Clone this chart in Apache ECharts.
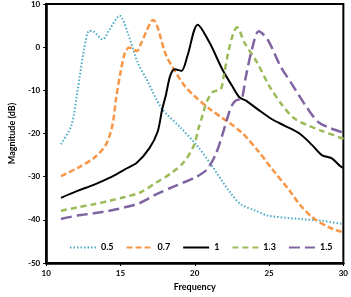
<!DOCTYPE html>
<html>
<head>
<meta charset="utf-8">
<script src="https://cdn.jsdelivr.net/npm/echarts@6/dist/echarts.min.js"></script>
<style>
  html, body { margin: 0; padding: 0; background: #fff; }
  #main { width: 351px; height: 297px; }
</style>
</head>
<body>
<div id="main"></div>
<script>
// [frequency, magnitude dB]
const s05 = [[11,-22.5],[11.7,-18.1],[12.1,-10.4],[12.55,-0.5],[12.9,3.8],[13.2,3.6],[13.8,1.8],[14.25,4.0],[14.95,7.3],[15.5,3.2],[16.15,-3.5],[16.75,-7.4],[17.8,-14.3],[19,-18.5],[20.15,-22.8],[21.1,-27.2],[22.3,-33.3],[23.1,-36.4],[24.1,-37.9],[24.9,-39.0],[27,-39.8],[28.5,-40.2],[30,-41]];
const s07 = [[11,-29.9],[12.1,-28],[13.2,-25.7],[14,-22.7],[14.45,-18.2],[14.7,-12],[15,-5.9],[15.3,-1.3],[15.6,-0.1],[16.1,-0.9],[16.4,1.0],[17.2,6.3],[18.1,-2.1],[19.3,-8.9],[19.95,-11.2],[21,-14.3],[23.1,-19.6],[24.3,-24.2],[25.15,-28],[26.4,-33.3],[27.05,-36.4],[27.9,-39.4],[29,-41.7],[30,-42.9]];
const s1 = [[11,-34.9],[12.1,-33.3],[13.2,-31.9],[14.25,-30.3],[15.3,-28.3],[16.1,-26.8],[16.95,-23.4],[17.5,-19.6],[17.8,-14.5],[18.05,-11.2],[18.35,-6.6],[18.65,-5.1],[19.1,-5.5],[19.5,-2.1],[20.2,5.2],[21,1.0],[21.85,-5.1],[22.5,-8.9],[23,-11.6],[23.45,-12.4],[24.2,-14.3],[25.2,-16.7],[26,-18.1],[27.05,-20],[27.9,-22.7],[28.55,-25],[29.2,-25.7],[29.8,-27.6],[30,-28]];
const s13 = [[11,-37.9],[12.1,-37.1],[13.2,-36.4],[14.25,-35.6],[15.3,-34.7],[16.3,-33.7],[17.4,-31.4],[18.45,-29.1],[19.3,-26.5],[19.95,-22.7],[20.25,-18.8],[20.55,-15.5],[20.8,-12.7],[21.2,-10.4],[21.75,-9.7],[21.95,-6.6],[22.25,-1.3],[22.6,3.3],[22.85,4.6],[23.35,1.0],[24.2,-3.6],[25,-8.9],[25.9,-13.5],[26.7,-16.5],[27.6,-18.1],[28.4,-19.2],[29.9,-21.1],[30,-21.3]];
const s15 = [[11,-39.8],[12.1,-39.0],[13.2,-38.5],[14.25,-37.9],[15.3,-37.1],[16.3,-36.1],[17.4,-34.1],[18.65,-32.2],[19.95,-30.3],[20.8,-28.4],[21.4,-24.9],[21.85,-20.4],[22.25,-15.8],[22.5,-13.5],[22.9,-12.2],[23.1,-12.2],[23.45,-6.6],[23.85,-0.5],[24.3,3.7],[24.9,1.8],[25.75,-4.3],[26.6,-8.9],[27.45,-13.5],[28.3,-17.3],[29.15,-18.8],[30,-19.8]];

const names = ['0.5', '0.7', '1', '1.3', '1.5'];
const dataSets = [s05, s07, s1, s13, s15];
const colors = ['#4BACC6', '#F79646', '#000000', '#9BBB59', '#8064A2'];
const widths = [2, 2.5, 2, 2.5, 2.5];
const dashes = [[1.5, 2], [6, 3], 'solid', [6, 4], [11, 5]];

const font = 'Lato, "Liberation Sans", sans-serif';

var myChart = echarts.init(document.getElementById('main'));
myChart.setOption({
  animation: false,
  textStyle: { fontFamily: font },
  grid: {
    left: 34, right: 3, top: 4, bottom: 31,
    show: true, borderColor: '#000', borderWidth: 2
  },
  legend: {
    left: 64, top: 238,
    itemWidth: 26, itemHeight: 8, itemGap: 12,
    data: names,
    itemStyle: { opacity: 0 },
    textStyle: { fontSize: 9, fontWeight: 'bold', color: '#000', fontFamily: font }
  },
  xAxis: {
    type: 'value', min: 10, max: 30, interval: 5,
    name: 'Frequency', nameLocation: 'middle', nameGap: 20,
    nameTextStyle: { fontSize: 9, fontWeight: 'bold', color: '#000' },
    axisLine: { onZero: false, lineStyle: { color: '#000', width: 2.5 } },
    axisTick: { length: 3, lineStyle: { color: '#000' } },
    axisLabel: { fontSize: 8, fontWeight: 'bold', color: '#000', margin: 6 },
    splitLine: { show: false }
  },
  yAxis: {
    type: 'value', min: -50, max: 10, interval: 10,
    name: 'Magnitude (dB)', nameLocation: 'middle', nameGap: 26,
    nameTextStyle: { fontSize: 9, fontWeight: 'bold', color: '#000' },
    axisLine: { show: true, onZero: false, lineStyle: { color: '#000', width: 2.5 } },
    axisTick: { show: true, length: 3, lineStyle: { color: '#000' } },
    axisLabel: { fontSize: 8, fontWeight: 'bold', color: '#000', margin: 6 },
    splitLine: { show: false }
  },
  series: dataSets.map((d, i) => ({
    name: names[i],
    type: 'line',
    data: d,
    smooth: 0.3,
    symbol: 'none',
    color: colors[i],
    lineStyle: { color: colors[i], width: widths[i], type: dashes[i] }
  }))
});
</script>
</body>
</html>
